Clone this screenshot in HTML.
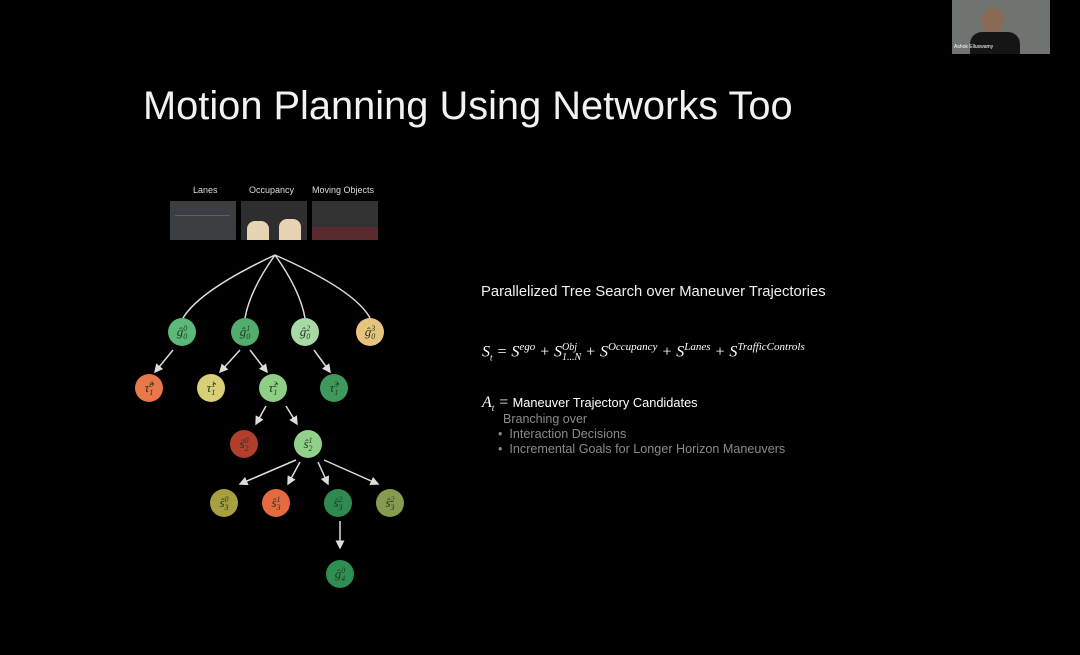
<!DOCTYPE html>
<html><head><meta charset="utf-8"><style>
body{margin:0;width:1080px;height:655px;background:#000;overflow:hidden;position:relative;font-family:"Liberation Sans",sans-serif;color:#fff}
.a{position:absolute}
.title{left:143px;top:84px;font-size:39.8px;color:#f2f2f2;white-space:nowrap}
.lbl{font-size:9px;color:#ddd;top:185px}
.img{top:201px;height:39px;width:66px;background:#3a3d40}
.n{position:absolute;width:28px;height:28px;border-radius:50%;font-family:"Liberation Serif",serif;font-style:italic;font-size:13px;color:#1d3a20;text-align:center;line-height:28px}
.n .s{display:inline-block;vertical-align:middle;font-size:8px;line-height:8px;text-align:left}
.n .s span{display:block}
.sm{font-family:"Liberation Serif",serif;font-style:italic}
</style></head><body>
<div class="a" style="left:952px;top:0;width:98px;height:54px;background:#6f7471"><div class="a" style="left:30px;top:8px;width:22px;height:26px;border-radius:45%;background:#8a6a55"></div><div class="a" style="left:18px;top:32px;width:50px;height:22px;background:#151515;border-radius:12px 12px 0 0"></div><div class="a" style="left:2px;top:44px;font-size:5px;color:#fff">Ashok Elluswamy</div></div>
<div class="a title">Motion Planning Using Networks Too</div>
<div class="a lbl" style="left:193px">Lanes</div>
<div class="a lbl" style="left:249px">Occupancy</div>
<div class="a lbl" style="left:312px">Moving Objects</div>
<div class="a img" style="left:170px;background:#3c3f42"><div class="a" style="left:5px;top:14px;width:55px;height:1px;background:#4a5a9a"></div></div>
<div class="a img" style="left:241px;background:#2e2e30"><div class="a" style="left:6px;top:20px;width:22px;height:19px;background:#e7d4b4;border-radius:8px 8px 0 0"></div><div class="a" style="left:38px;top:18px;width:22px;height:21px;background:#e7d4b4;border-radius:8px 8px 0 0"></div></div>
<div class="a img" style="left:312px;background:#333"><div class="a" style="left:0;top:26px;width:66px;height:13px;background:#5a2a2e"></div></div>
<svg class="a" style="left:0;top:0" width="1080" height="655">
<defs><marker id="m" markerWidth="6" markerHeight="6" refX="5" refY="3" orient="auto"><path d="M0,0L6,3L0,6z" fill="#ddd"/></marker></defs>
<g stroke="#ddd" stroke-width="1.5" fill="none">
<path d="M275,255 Q200,290 183,318"/><path d="M275,255 Q250,290 245,318"/><path d="M275,255 Q300,290 305,318"/><path d="M275,255 Q355,290 370,318"/>
<g marker-end="url(#m)">
<line x1="173" y1="350" x2="155" y2="372"/><line x1="240" y1="350" x2="220" y2="372"/><line x1="250" y1="350" x2="267" y2="372"/><line x1="314" y1="350" x2="330" y2="372"/>
<line x1="266" y1="406" x2="256" y2="424"/><line x1="286" y1="406" x2="297" y2="424"/>
<line x1="296" y1="460" x2="240" y2="484"/><line x1="300" y1="462" x2="288" y2="484"/><line x1="318" y1="462" x2="328" y2="484"/><line x1="324" y1="460" x2="378" y2="484"/>
<line x1="340" y1="521" x2="340" y2="548"/>
</g></g></svg>
<div class="n" style="left:168px;top:318px;background:#5cb878">ĝ<span class="s"><span>0</span><span>0</span></span></div>
<div class="n" style="left:231px;top:318px;background:#52ad6c">ĝ<span class="s"><span>1</span><span>0</span></span></div>
<div class="n" style="left:291px;top:318px;background:#a8d9a4">ĝ<span class="s"><span>2</span><span>0</span></span></div>
<div class="n" style="left:356px;top:318px;background:#e7c47e">ĝ<span class="s"><span>3</span><span>0</span></span></div>
<div class="n" style="left:135px;top:374px;background:#e8774a">τ̂<span class="s"><span>0</span><span>1</span></span></div>
<div class="n" style="left:197px;top:374px;background:#d8cf78">τ̂<span class="s"><span>1</span><span>1</span></span></div>
<div class="n" style="left:259px;top:374px;background:#8fcf85">τ̂<span class="s"><span>2</span><span>1</span></span></div>
<div class="n" style="left:320px;top:374px;background:#3d9a5c">τ̂<span class="s"><span>3</span><span>1</span></span></div>
<div class="n" style="left:230px;top:430px;background:#b23e2c">ŝ<span class="s"><span>0</span><span>2</span></span></div>
<div class="n" style="left:294px;top:430px;background:#8fd08a">ŝ<span class="s"><span>1</span><span>2</span></span></div>
<div class="n" style="left:210px;top:489px;background:#a8a040">ŝ<span class="s"><span>0</span><span>3</span></span></div>
<div class="n" style="left:262px;top:489px;background:#e56a40">ŝ<span class="s"><span>1</span><span>3</span></span></div>
<div class="n" style="left:324px;top:489px;background:#2e8a50">ŝ<span class="s"><span>2</span><span>3</span></span></div>
<div class="n" style="left:376px;top:489px;background:#889a50">ŝ<span class="s"><span>2</span><span>3</span></span></div>
<div class="n" style="left:326px;top:560px;background:#2f8f52">ĝ<span class="s"><span>0</span><span>4</span></span></div>
<div class="a" style="left:481px;top:284px;font-size:14.8px;color:#f0f0f0;white-space:nowrap">Parallelized Tree Search over Maneuver Trajectories</div>
<div class="a sm" style="left:482px;top:341px;font-size:16px;white-space:nowrap">S<sub style="font-size:9px">t</sub> = S<sup style="font-size:11px">ego</sup> + S<span style="display:inline-block;vertical-align:middle;font-size:10px;line-height:10px"><span style="display:block">Obj</span><span style="display:block">1...N</span></span> + S<sup style="font-size:11px">Occupancy</sup> + S<sup style="font-size:11px">Lanes</sup> + S<sup style="font-size:11px">TrafficControls</sup></div>
<div class="a" style="left:482px;top:394px;font-size:12.8px;white-space:nowrap"><span class="sm" style="font-size:16px">A<sub style="font-size:9px">t</sub> =</span> Maneuver Trajectory Candidates</div>
<div class="a" style="left:503px;top:412px;font-size:12.5px;color:#8a8a8a">Branching over</div>
<div class="a" style="left:498px;top:427px;font-size:12.6px;color:#8a8a8a;white-space:nowrap">• &nbsp;Interaction Decisions</div>
<div class="a" style="left:498px;top:442px;font-size:12.6px;color:#8a8a8a;white-space:nowrap">• &nbsp;Incremental Goals for Longer Horizon Maneuvers</div>
</body></html>
